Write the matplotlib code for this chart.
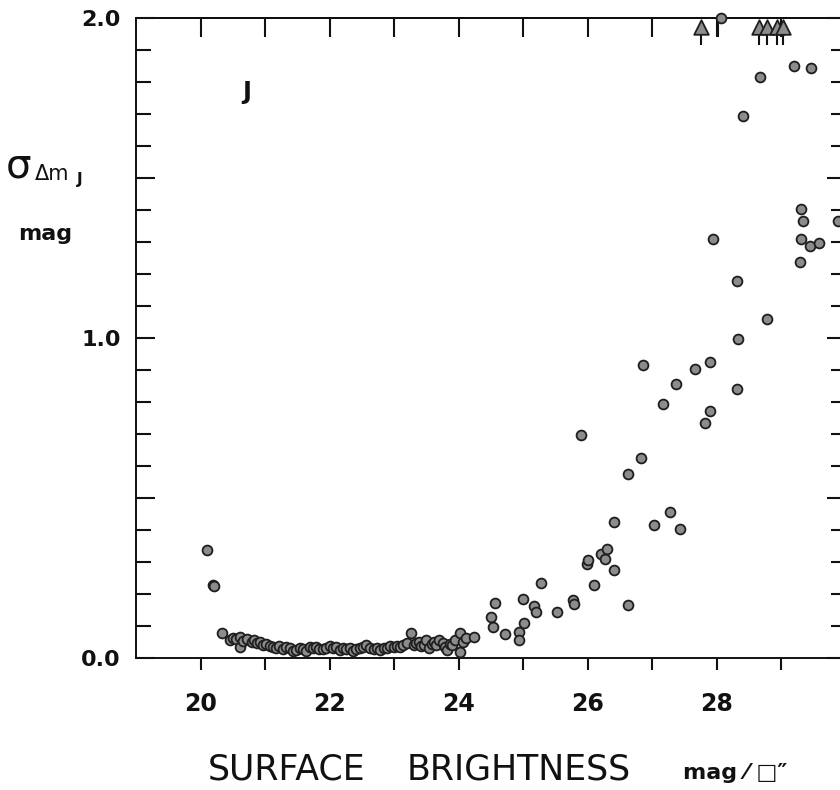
import numpy as np
import matplotlib
matplotlib.use("Agg")
import matplotlib.pyplot as plt
from matplotlib.ticker import FixedLocator, MultipleLocator

# 図のサイズ (px) と色
FIG_W, FIG_H = 840, 790
DPI = 100
FACE = "#8c8c8c"
EDGE = "#1e1e1e"
INK = "#111111"

# 散布点: 明るい側の密な帯 (20.3〜24.3 mag)
band_x = np.array([
    20.45, 20.50, 20.55, 20.61, 20.61, 20.66, 20.72, 20.79, 20.83, 20.87,
    20.92, 20.97, 21.02, 21.07, 21.12, 21.17, 21.22, 21.28, 21.33, 21.38,
    21.43, 21.48, 21.54, 21.59, 21.64, 21.69, 21.74, 21.79, 21.84, 21.90,
    21.95, 22.00, 22.05, 22.10, 22.16, 22.21, 22.26, 22.31, 22.36, 22.41,
    22.47, 22.52, 22.57, 22.62, 22.68, 22.73, 22.78, 22.84, 22.89, 22.94,
    22.99, 23.04, 23.09, 23.14, 23.20, 23.26, 23.30, 23.34, 23.38, 23.42,
    23.46, 23.50, 23.54, 23.58, 23.61, 23.65, 23.69, 23.75, 23.78, 23.82,
    23.86, 23.90, 23.95, 24.02, 24.02, 24.06, 24.11, 24.23,
])
band_y = np.array([
    0.056, 0.062, 0.060, 0.065, 0.035, 0.052, 0.060, 0.051, 0.056, 0.046,
    0.050, 0.041, 0.044, 0.038, 0.034, 0.030, 0.036, 0.027, 0.033, 0.030,
    0.022, 0.025, 0.032, 0.027, 0.022, 0.035, 0.030, 0.035, 0.028, 0.027,
    0.031, 0.036, 0.030, 0.033, 0.025, 0.030, 0.027, 0.032, 0.023, 0.028,
    0.030, 0.034, 0.041, 0.030, 0.027, 0.031, 0.025, 0.032, 0.030, 0.036,
    0.033, 0.038, 0.035, 0.040, 0.046, 0.077, 0.041, 0.048, 0.051, 0.036,
    0.041, 0.055, 0.030, 0.044, 0.051, 0.040, 0.056, 0.046, 0.035, 0.025,
    0.045, 0.041, 0.056, 0.077, 0.020, 0.050, 0.062, 0.067,
])

# 散布点: 孤立した点
sparse_x = np.array([
    20.10, 20.19, 20.21, 20.34,
    24.50, 24.53, 24.56, 24.72, 24.93, 24.94, 24.99, 25.01, 25.16, 25.20,
    25.27, 25.52, 25.77, 25.78, 25.89, 25.99, 26.00, 26.10, 26.20, 26.26,
    26.29, 26.40, 26.41, 26.62, 26.63, 26.82, 26.86, 27.02, 27.16, 27.27,
    27.37, 27.43, 27.66, 27.81, 27.90, 27.90, 27.94, 28.31, 28.33, 28.31,
    28.41, 28.66, 28.77, 29.20, 29.29, 29.30, 29.31, 29.34, 29.44, 29.46,
    29.58, 29.87,
])
sparse_y = np.array([
    0.339, 0.229, 0.224, 0.078,
    0.127, 0.098, 0.173, 0.074, 0.082, 0.056, 0.183, 0.110, 0.163, 0.145,
    0.233, 0.145, 0.181, 0.169, 0.697, 0.293, 0.306, 0.227, 0.324, 0.308,
    0.340, 0.424, 0.275, 0.574, 0.166, 0.625, 0.916, 0.415, 0.793, 0.455,
    0.855, 0.402, 0.904, 0.733, 0.924, 0.772, 1.309, 0.842, 0.996, 1.178,
    1.694, 1.817, 1.058, 1.851, 1.237, 1.404, 1.308, 1.367, 1.288, 1.845,
    1.298, 1.366,
])

# 上限値 (矢印) と上端の点
arrow_x = np.array([27.76, 28.65, 28.78, 28.93, 29.02])
edge_x = np.array([28.07])
edge_y = np.array([2.0])

X_LIM = (19, 30)
Y_LIM = (0.0, 2.0)
x_major = np.arange(20, 31, 1)
x_labels = ["20", "", "22", "", "24", "", "26", "", "28", "", ""]
y_major = [0.0, 0.5, 1.0, 1.5, 2.0]
y_labels = ["0.0", "", "1.0", "", "2.0"]


def px(x, y):
    """ピクセル座標 -> 図の座標"""
    return x / FIG_W, 1 - y / FIG_H


plt.rcParams["font.family"] = ["DejaVu Sans"]
fig = plt.figure(figsize=(FIG_W / DPI, FIG_H / DPI), dpi=DPI)

# 軸の位置 (右端は画像の外)
left, bottom = px(136, 658)
right, top = px(846, 18)
ax = fig.add_axes([left, bottom, right - left, top - bottom])
ax.set_xlim(*X_LIM)
ax.set_ylim(*Y_LIM)

for side in ax.spines.values():
    side.set_linewidth(1.4)
    side.set_color(INK)

point_kw = dict(s=50, c=FACE, edgecolors=EDGE, linewidths=1.3, zorder=3)
ax.scatter(band_x, band_y, **point_kw)
ax.scatter(sparse_x, sparse_y, **point_kw)
ax.scatter(edge_x, edge_y, clip_on=False, **point_kw)
ax.vlines(edge_x - 0.06, 1.94, 1.99, color=INK, lw=1.5, zorder=2)

# 上向き矢印
ax.vlines(arrow_x, 1.915, 1.96, color=INK, lw=1.5, zorder=2)
ax.scatter(arrow_x, np.full(len(arrow_x), 1.972), marker="^", s=110,
           c=FACE, edgecolors=EDGE, linewidths=1.3, zorder=4)

# 目盛り
ax.xaxis.set_major_locator(FixedLocator(x_major))
ax.set_xticklabels(x_labels)
ax.yaxis.set_major_locator(FixedLocator(y_major))
ax.set_yticklabels(y_labels)
ax.yaxis.set_minor_locator(MultipleLocator(0.1))
ax.tick_params(axis="x", which="major", direction="out", length=8.6,
               width=1.5, pad=16, labelsize=17, colors=INK)
ax.tick_params(axis="y", which="major", direction="in", length=13.5,
               width=1.5, pad=11, labelsize=16, left=True, right=True,
               colors=INK)
ax.tick_params(axis="y", which="minor", direction="in", length=10.5,
               width=1.5, left=True, right=True, colors=INK)
for lab in ax.get_xticklabels() + ax.get_yticklabels():
    lab.set_fontweight("bold")

top_ax = ax.secondary_xaxis("top")
top_ax.set_xticks(x_major)
top_ax.tick_params(direction="in", length=13.5, width=1.5, labeltop=False,
                   colors=INK)
top_ax.spines["top"].set_linewidth(1.4)

# 文字
ax.text(20.72, 1.77, "J", fontsize=17, fontweight="bold", color=INK,
        ha="center", va="center")
fig.text(*px(6, 178), "σ", fontsize=29, color=INK, ha="left", va="baseline")
fig.text(*px(35, 180), "Δm", fontsize=15, color=INK, ha="left", va="baseline")
fig.text(*px(77, 184), "J", fontsize=11, fontweight="bold", color=INK,
         ha="left", va="baseline")
fig.text(*px(18, 240), "mag", fontsize=16, fontweight="bold", color=INK,
         ha="left", va="baseline")
fig.text(*px(208, 780), "SURFACE", fontsize=25, color=INK,
         ha="left", va="baseline")
fig.text(*px(407, 780), "BRIGHTNESS", fontsize=25, color=INK,
         ha="left", va="baseline")
fig.text(*px(683, 779), "mag ⁄ □″", fontsize=16, fontweight="bold",
         color=INK, ha="left", va="baseline")

fig.savefig("out.png", dpi=DPI)
